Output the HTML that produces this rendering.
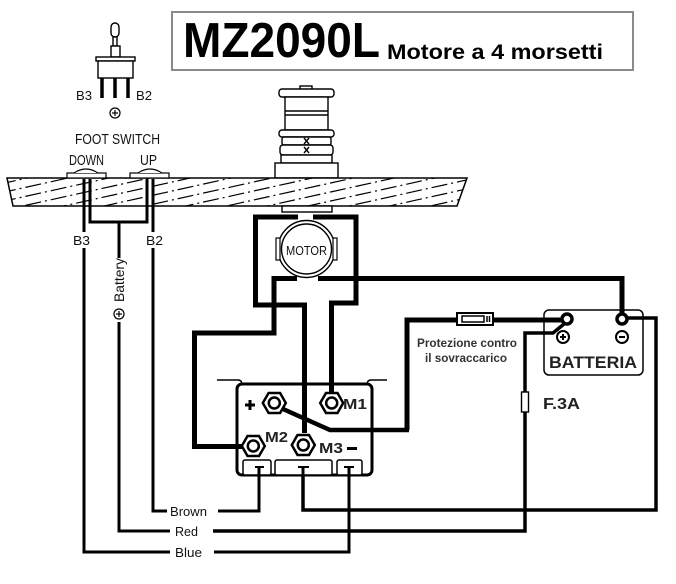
<!DOCTYPE html>
<html><head><meta charset="utf-8"><style>
html,body{margin:0;padding:0;background:#fff;}
svg{display:block;}
</style></head><body>
<svg width="676" height="584" viewBox="0 0 676 584" xmlns="http://www.w3.org/2000/svg" font-family="'Liberation Sans', Arial, sans-serif">
<defs>
<clipPath id="deck"><polygon points="7,178 467,178 457,206 13,206"/></clipPath>
</defs>
<rect width="676" height="584" fill="#fff"/>

<!-- Title -->
<rect x="172" y="12" width="461" height="58" fill="#fff" stroke="#8a8a8a" stroke-width="2"/>
<text x="183" y="57" font-size="49" font-weight="bold" textLength="197" lengthAdjust="spacingAndGlyphs">MZ2090L</text>
<text x="387" y="59" font-size="21" font-weight="bold" textLength="216" lengthAdjust="spacingAndGlyphs">Motore a 4 morsetti</text>

<!-- Toggle switch -->
<g stroke="#000" stroke-width="1.4" fill="#fff">
<rect x="111" y="23" width="8" height="14" rx="4"/>
<rect x="113" y="37" width="4" height="9"/>
<rect x="111" y="46" width="9" height="11"/>
<rect x="96" y="57" width="39" height="4"/>
<rect x="98" y="61" width="35" height="17"/>
</g>
<g stroke="#000" stroke-width="3.5">
<line x1="102" y1="78" x2="102" y2="98"/>
<line x1="115" y1="78" x2="115" y2="98"/>
<line x1="128" y1="78" x2="128" y2="98"/>
</g>
<g font-size="13" fill="#111">
<text x="76" y="100" textLength="16" lengthAdjust="spacingAndGlyphs">B3</text>
<text x="136" y="100" textLength="16" lengthAdjust="spacingAndGlyphs">B2</text>
</g>
<circle cx="115" cy="113" r="5" fill="none" stroke="#000" stroke-width="1.2"/>
<line x1="112" y1="113" x2="118" y2="113" stroke="#000" stroke-width="1.2"/>
<line x1="115" y1="110" x2="115" y2="116" stroke="#000" stroke-width="1.2"/>

<g font-size="15" fill="#111">
<text x="75" y="144" textLength="85" lengthAdjust="spacingAndGlyphs">FOOT  SWITCH</text>
<text x="69" y="165" textLength="35" lengthAdjust="spacingAndGlyphs">DOWN</text>
<text x="140" y="165" textLength="17" lengthAdjust="spacingAndGlyphs">UP</text>
</g>

<!-- Winch -->
<g stroke="#000" stroke-width="1.4" fill="#fff">
<rect x="300" y="86" width="12" height="4"/>
<rect x="279" y="89" width="55" height="8" rx="3"/>
<rect x="285" y="97" width="43" height="33"/>
<line x1="285" y1="111" x2="328" y2="111"/>
<line x1="285" y1="115" x2="328" y2="115"/>
<rect x="279" y="130" width="55" height="7" rx="3"/>
<rect x="282" y="137" width="49" height="8" rx="2"/>
<rect x="280" y="145" width="53" height="10" rx="3"/>
<rect x="281" y="155" width="51" height="8"/>
<rect x="275" y="163" width="63" height="15"/>
<path d="M304,138 L309,144 M309,138 L304,144 M304,147 L309,153 M309,147 L304,153" fill="none"/>
</g>

<!-- Deck -->
<polygon points="7,178 467,178 457,206 13,206" fill="#fff" stroke="#000" stroke-width="1.5"/>
<g clip-path="url(#deck)" stroke="#000" stroke-width="1.2" stroke-dasharray="16 4 2 4">
<line x1="0" y1="184" x2="480" y2="78"/>
<line x1="0" y1="193" x2="480" y2="87"/>
<line x1="0" y1="202" x2="480" y2="96"/>
<line x1="0" y1="211" x2="480" y2="105"/>
<line x1="0" y1="220" x2="480" y2="114"/>
<line x1="0" y1="229" x2="480" y2="123"/>
<line x1="0" y1="238" x2="480" y2="132"/>
<line x1="0" y1="247" x2="480" y2="141"/>
<line x1="0" y1="256" x2="480" y2="150"/>
<line x1="0" y1="265" x2="480" y2="159"/>
<line x1="0" y1="274" x2="480" y2="168"/>
<line x1="0" y1="283" x2="480" y2="177"/>
<line x1="0" y1="292" x2="480" y2="186"/>
<line x1="0" y1="301" x2="480" y2="195"/>
<line x1="0" y1="310" x2="480" y2="204"/>
</g>

<!-- Foot switch buttons -->
<g stroke="#000" stroke-width="1.2" fill="#fff">
<rect x="67" y="173" width="39" height="5"/>
<path d="M74,173 Q86,165 98,173"/>
<rect x="130" y="173" width="39" height="5"/>
<path d="M138,173 Q150,165 162,173"/>
</g>

<!-- Mount under deck -->
<rect x="282" y="206" width="50" height="6" fill="#fff" stroke="#000" stroke-width="1.4"/>

<!-- Foot switch wires -->
<g stroke="#000" stroke-width="3" fill="none">
<path d="M84,179 V232"/>
<path d="M90,179 V222 H147 V179"/>
<path d="M153,179 V232"/>
<path d="M119,222 V258"/>
<path d="M84,248 V552 H170"/>
<path d="M214,552 H349 V467"/>
<path d="M119,322 V531 H170"/>
<path d="M153,248 V511 H167"/>
<path d="M218,511 H259 V467"/>
</g>
<g font-size="13" fill="#111">
<text x="73" y="245" textLength="17" lengthAdjust="spacingAndGlyphs">B3</text>
<text x="146" y="245" textLength="17" lengthAdjust="spacingAndGlyphs">B2</text>
<text x="170" y="516" textLength="37" lengthAdjust="spacingAndGlyphs">Brown</text>
<text x="175" y="536" textLength="23" lengthAdjust="spacingAndGlyphs">Red</text>
<text x="175" y="557" textLength="27" lengthAdjust="spacingAndGlyphs">Blue</text>
<text x="124" y="302" font-size="14" transform="rotate(-90 124 302)" textLength="44" lengthAdjust="spacingAndGlyphs">Battery</text>
</g>
<circle cx="119" cy="314" r="5" fill="none" stroke="#000" stroke-width="1.2"/>
<line x1="116" y1="314" x2="122" y2="314" stroke="#000" stroke-width="1.2"/>
<line x1="119" y1="311" x2="119" y2="317" stroke="#000" stroke-width="1.2"/>

<!-- Motor -->
<circle cx="306.5" cy="249" r="28.5" fill="#fff" stroke="#000" stroke-width="1.4"/>
<circle cx="306.5" cy="249" r="25" fill="none" stroke="#000" stroke-width="1.4"/>
<rect x="276" y="238" width="4" height="22" fill="#fff" stroke="#000" stroke-width="1.2"/>
<rect x="333" y="238" width="4" height="22" fill="#fff" stroke="#000" stroke-width="1.2"/>
<text x="286" y="255" font-size="13" textLength="41" lengthAdjust="spacingAndGlyphs" fill="#111">MOTOR</text>

<!-- Main wires -->
<g stroke="#000" stroke-width="5" fill="none" stroke-linejoin="miter">
<path d="M298,217 H255.5 V305 H304.5 V433"/>
<path d="M297,278.5 H274 V333 H194.5 V446.5 H243"/>
<path d="M313,217 H356 V303 H331.5 V392"/>
<path d="M318,278.5 H622 V314"/>
<path d="M407,430 V320 H562"/>
</g>
<path d="M283,409 L330,430 H409" stroke="#000" stroke-width="4.5" fill="none"/>
<g stroke="#000" stroke-width="3.5" fill="none">
<path d="M627,318 H656 V510 H303 V467"/>
<path d="M564,324 L553,333 H525 V531 H213"/>
</g>

<!-- Overload protection fuse -->
<rect x="457" y="313" width="36" height="12" fill="#fff" stroke="#000" stroke-width="2"/>
<rect x="462" y="316" width="22" height="6" fill="#fff" stroke="#000" stroke-width="1.5"/>
<line x1="487" y1="316" x2="487" y2="322" stroke="#000" stroke-width="1.5"/>
<line x1="489.5" y1="316" x2="489.5" y2="322" stroke="#000" stroke-width="1.5"/>
<g font-size="12" font-weight="bold" fill="#333">
<text x="417" y="347" textLength="100" lengthAdjust="spacingAndGlyphs">Protezione contro</text>
<text x="425" y="362" textLength="82" lengthAdjust="spacingAndGlyphs">il sovraccarico</text>
</g>

<!-- F.3A fuse -->
<rect x="521.5" y="392" width="7" height="20" fill="#fff" stroke="#000" stroke-width="1.4"/>
<text x="543" y="409" font-size="16" font-weight="bold" fill="#222" textLength="37" lengthAdjust="spacingAndGlyphs">F.3A</text>

<!-- Battery -->
<rect x="544" y="310" width="99" height="65" rx="5" fill="none" stroke="#000" stroke-width="1.5"/>
<circle cx="567" cy="319" r="5" fill="#fff" stroke="#000" stroke-width="3.5"/>
<circle cx="622" cy="319" r="5" fill="#fff" stroke="#000" stroke-width="3.5"/>
<circle cx="563" cy="337" r="6" fill="#fff" stroke="#000" stroke-width="2"/>
<line x1="560" y1="337" x2="566" y2="337" stroke="#000" stroke-width="2"/>
<line x1="563" y1="334" x2="563" y2="340" stroke="#000" stroke-width="2"/>
<circle cx="622" cy="337" r="6" fill="#fff" stroke="#000" stroke-width="2"/>
<line x1="619" y1="337" x2="625" y2="337" stroke="#000" stroke-width="2"/>
<text x="549" y="368" font-size="17" font-weight="bold" fill="#222" textLength="88" lengthAdjust="spacingAndGlyphs">BATTERIA</text>

<!-- Control box -->
<g stroke="#000" stroke-width="1.5" fill="none">
<path d="M217,380 H238 Q242,380 242,385"/>
<path d="M367,385 Q367,380 371,380 H387"/>
</g>
<rect x="237" y="384" width="135" height="91" rx="5" fill="none" stroke="#000" stroke-width="3"/>
<g stroke="#000" stroke-width="1.5" fill="#fff">
<rect x="243" y="460" width="28" height="15" rx="2"/>
<rect x="275" y="460" width="57" height="15" rx="2"/>
<rect x="337" y="460" width="25" height="15" rx="2"/>
</g>
<g stroke="#000" stroke-width="2">
<line x1="255" y1="467" x2="264" y2="467"/>
<line x1="298" y1="467" x2="309" y2="467"/>
<line x1="344" y1="467" x2="354" y2="467"/>
</g>
<g stroke="#000" stroke-width="3">
<line x1="259" y1="467" x2="259" y2="476"/>
<line x1="303" y1="467" x2="303" y2="476"/>
<line x1="349" y1="467" x2="349" y2="476"/>
</g>

<!-- Nuts -->
<g stroke="#000" stroke-width="2.5" fill="#fff">
<polygon points="285.8,403 280.1,413 268.6,413 262.8,403 268.6,393 280.1,393"/>
<circle cx="274.3" cy="403" r="5.5"/>
<polygon points="343.2,403 337.5,413 326,413 320.2,403 326,393 337.5,393"/>
<circle cx="331.7" cy="403" r="5.5"/>
<polygon points="264.8,446 259,456 247.5,456 241.8,446 247.5,436 259,436"/>
<circle cx="253.3" cy="446" r="5.5"/>
<polygon points="314.8,445 309,455 297.5,455 291.8,445 297.5,435 309,435"/>
<circle cx="303.3" cy="445" r="5.5"/>
</g>
<g stroke="#000" stroke-width="3">
<line x1="245" y1="405" x2="255" y2="405"/>
<line x1="250" y1="400" x2="250" y2="410"/>
<line x1="347" y1="448.5" x2="357" y2="448.5"/>
</g>
<g font-size="15" font-weight="bold" fill="#222">
<text x="343" y="409" textLength="24" lengthAdjust="spacingAndGlyphs">M1</text>
<text x="265" y="442" textLength="23" lengthAdjust="spacingAndGlyphs">M2</text>
<text x="319" y="453" textLength="24" lengthAdjust="spacingAndGlyphs">M3</text>
</g>
</svg>
</body></html>
